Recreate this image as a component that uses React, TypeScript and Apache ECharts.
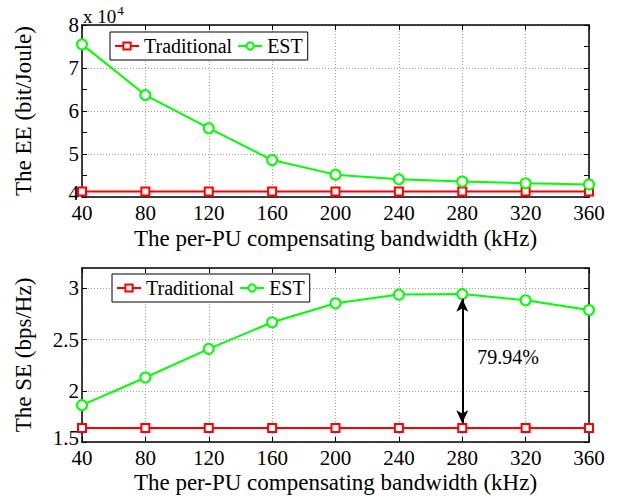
import React, { useEffect, useRef } from "react";
import * as echarts from "echarts";

const bandwidth = [40, 80, 120, 160, 200, 240, 280, 320, 360];
const eeTraditional = [41300, 41300, 41300, 41300, 41300, 41300, 41300, 41300, 41300];
const eeEST = [75500, 63700, 56000, 48600, 45200, 44100, 43600, 43200, 42900];
const seTraditional = [1.637, 1.637, 1.637, 1.637, 1.637, 1.637, 1.637, 1.637, 1.637];
const seEST = [1.86, 2.13, 2.41, 2.67, 2.855, 2.94, 2.945, 2.885, 2.79];
const seriesNames = ["Traditional", "EST"];
const gainIndex = 6;
const gainText = "79.94%";

const FONT = "'Liberation Serif', 'Times New Roman', serif";
const FS = 21;
const NFS = 23;
const LFS = 20;
const RED = "#ff0000";
const GREEN = "#00ff00";

const pair = (xs: number[], ys: number[]) => xs.map((x, i) => [x, ys[i]]);

export default function App() {
  const ref = useRef<HTMLDivElement>(null);
  useEffect(() => {
    if (!ref.current) return;
    const chart = echarts.init(ref.current, null, { renderer: "svg" });

    const axisLine = { show: true, lineStyle: { color: "#000", width: 1.5 } };
    const tick = { show: true, inside: true, length: 5, lineStyle: { color: "#000" } };
    const split = { show: true, lineStyle: { color: "#a0a0a0", type: [1, 2], width: 1 } };

    const xMain = (gridIndex: number, gap: number) => ({
      type: "value",
      gridIndex,
      position: "bottom",
      min: 40,
      max: 360,
      interval: 40,
      axisLine,
      axisTick: tick,
      splitLine: split,
      axisLabel: { color: "#000", fontSize: FS, fontFamily: FONT, margin: 8, lineHeight: 15 },
      name: "The per-PU compensating bandwidth (kHz)",
      nameLocation: "middle",
      nameGap: gap,
      nameTextStyle: { color: "#000", fontSize: NFS, fontFamily: FONT },
    });
    const xTop = (gridIndex: number) => ({
      type: "value",
      gridIndex,
      position: "top",
      min: 40,
      max: 360,
      interval: 40,
      axisLine,
      axisTick: tick,
      splitLine: { show: false },
      axisLabel: { show: false },
    });

    const legendBase = {
      data: seriesNames,
      orient: "horizontal",
      backgroundColor: "#fff",
      borderColor: "#000",
      borderWidth: 1,
      borderRadius: 0,
      padding: [4, 5, 4, 4],
      itemGap: 5,
      itemWidth: 24,
      itemHeight: 9,
      textStyle: { color: "#000", fontSize: LFS, fontFamily: FONT },
    };

    const yLabel = (min: number, fmt: (v: number) => string) => ({
      color: "#000",
      fontSize: FS,
      fontFamily: FONT,
      margin: 3,
      lineHeight: 14,
      formatter: (v: number) => (Math.abs(v - min) < 1e-9 ? `{lo|${fmt(v)}}` : fmt(v)),
      rich: {
        lo: { fontSize: FS, fontFamily: FONT, color: "#000", lineHeight: 14, padding: [0, 0, 9, 0] },
      },
    });

    const option: any = {
      animation: false,
      backgroundColor: "#fff",
      grid: [
        { left: 82, right: 34, top: 25, height: 172 },
        { left: 82, right: 34, top: 268, height: 174 },
      ],
      xAxis: [xMain(0, 30), xTop(0), xMain(1, 29), xTop(1)],
      yAxis: [
        {
          type: "value",
          gridIndex: 0,
          position: "left",
          min: 40000,
          max: 80000,
          interval: 10000,
          axisLine,
          axisTick: tick,
          minorTick: { show: true, splitNumber: 2, length: 5, lineStyle: { color: "#000" } },
          splitLine: split,
          axisLabel: yLabel(40000, (v) => String(v / 10000)),
          name: "The EE (bit/Joule)",
          nameLocation: "middle",
          nameGap: 47,
          nameTextStyle: { color: "#000", fontSize: NFS, fontFamily: FONT },
        },
        {
          type: "value",
          gridIndex: 0,
          position: "right",
          min: 40000,
          max: 80000,
          interval: 10000,
          axisLine,
          axisTick: tick,
          minorTick: { show: true, splitNumber: 2, length: 5, lineStyle: { color: "#000" } },
          splitLine: { show: false },
          axisLabel: { show: false },
        },
        {
          type: "value",
          gridIndex: 1,
          position: "left",
          min: 1.5,
          max: 3.2,
          interval: 0.5,
          axisLine,
          axisTick: tick,
          splitLine: split,
          axisLabel: { ...yLabel(1.5, (v) => String(v)), showMaxLabel: false },
          name: "The SE (bps/Hz)",
          nameLocation: "middle",
          nameGap: 47,
          nameTextStyle: { color: "#000", fontSize: NFS, fontFamily: FONT },
        },
        {
          type: "value",
          gridIndex: 1,
          position: "right",
          min: 1.5,
          max: 3.2,
          interval: 0.5,
          axisLine,
          axisTick: tick,
          splitLine: { show: false },
          axisLabel: { show: false },
        },
      ],
      legend: [
        { ...legendBase, left: 110, top: 32 },
        { ...legendBase, left: 112, top: 274 },
      ],
      graphic: [
        {
          type: "text",
          left: 83,
          top: 4,
          style: {
            text: "x 10{sup|4}",
            fill: "#000",
            font: `19px ${FONT}`,
            rich: {
              sup: { fontSize: 13, fontFamily: FONT, verticalAlign: "top", padding: [0, 0, 11, 1] },
            },
          },
        },
      ],
      series: [
        {
          name: "Traditional",
          type: "line",
          xAxisIndex: 0,
          yAxisIndex: 0,
          data: pair(bandwidth, eeTraditional),
          symbol: "emptyRect",
          symbolSize: 8,
          lineStyle: { color: RED, width: 2 },
          itemStyle: { color: RED, borderWidth: 1.5 },
        },
        {
          name: "EST",
          type: "line",
          xAxisIndex: 0,
          yAxisIndex: 0,
          data: pair(bandwidth, eeEST),
          symbol: "emptyCircle",
          symbolSize: 10,
          lineStyle: { color: GREEN, width: 2 },
          itemStyle: { color: GREEN, borderWidth: 1.5 },
        },
        {
          name: "Traditional",
          type: "line",
          xAxisIndex: 2,
          yAxisIndex: 2,
          data: pair(bandwidth, seTraditional),
          symbol: "emptyRect",
          symbolSize: 8,
          lineStyle: { color: RED, width: 2 },
          itemStyle: { color: RED, borderWidth: 1.5 },
        },
        {
          name: "EST",
          type: "line",
          xAxisIndex: 2,
          yAxisIndex: 2,
          data: pair(bandwidth, seEST),
          symbol: "emptyCircle",
          symbolSize: 10,
          lineStyle: { color: GREEN, width: 2 },
          itemStyle: { color: GREEN, borderWidth: 1.5 },
          markLine: {
            silent: true,
            symbol: ["arrow", "arrow"],
            symbolSize: [9, 13],
            label: { show: false },
            lineStyle: { color: "#000", width: 2, type: "solid" },
            data: [
              [
                { coord: [bandwidth[gainIndex], seEST[gainIndex] - 0.045] },
                { coord: [bandwidth[gainIndex], seTraditional[gainIndex] + 0.045] },
              ],
            ],
          },
          markPoint: {
            silent: true,
            symbol: "circle",
            symbolSize: 0,
            data: [
              {
                coord: [bandwidth[gainIndex], 2.335],
                label: {
                  show: true,
                  position: "right",
                  distance: 15,
                  formatter: gainText,
                  color: "#000",
                  fontSize: LFS,
                  fontFamily: FONT,
                },
              },
            ],
          },
        },
      ],
    };

    chart.setOption(option);
    return () => chart.dispose();
  }, []);

  return (
    <div
      ref={ref}
      style={{ position: "fixed", left: 0, top: 0, width: 623, height: 501 }}
    />
  );
}
